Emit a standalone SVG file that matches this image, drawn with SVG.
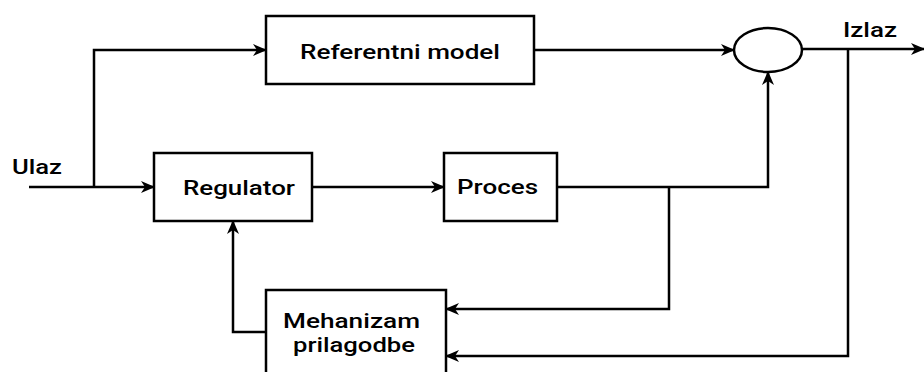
<svg xmlns="http://www.w3.org/2000/svg" width="924" height="372" viewBox="0 0 924 372">
<style>
.box{fill:#fff;stroke:#000;stroke-width:2.5}
.ln{fill:none;stroke:#000;stroke-width:2.5;marker-end:url(#arr)}
text{font-family:Roboto,"Liberation Sans",sans-serif;font-weight:500;font-size:20px;fill:#000}
</style>
<defs>
<marker id="arr" viewBox="0 0 14 12" refX="13" refY="6" markerWidth="14" markerHeight="12" markerUnits="userSpaceOnUse" orient="auto">
<path d="M0,0 L14,6 L0,12 L4,6 Z" fill="#000"/>
</marker>
</defs>
<rect width="924" height="372" fill="#fff"/>
<g id="connectors">
<path class="ln" d="M29,187 L154,187"/>
<path class="ln" d="M94,187 L94,50 L266,50"/>
<path class="ln" d="M534,50 L734,50"/>
<path class="ln" d="M312,187 L444,187"/>
<path class="ln" d="M557,187 L768,187 L768,72"/>
<path class="ln" d="M802,49 L924,49"/>
<path class="ln" d="M669,187 L669,309 L446,309"/>
<path class="ln" d="M848,49 L848,356 L446,356"/>
<path class="ln" d="M266,332 L233,332 L233,221"/>
</g>
<g id="referentni">
<rect class="box" x="266" y="16" width="268" height="68"/>
<text x="300" y="59" textLength="200" lengthAdjust="spacingAndGlyphs">Referentni model</text>
</g>
<g id="regulator">
<rect class="box" x="154" y="153" width="158" height="68"/>
<text x="183" y="195" textLength="112" lengthAdjust="spacingAndGlyphs">Regulator</text>
</g>
<g id="proces">
<rect class="box" x="444" y="153" width="113" height="68"/>
<text x="457" y="194" textLength="81" lengthAdjust="spacingAndGlyphs">Proces</text>
</g>
<g id="sum">
<ellipse cx="768" cy="50" rx="34" ry="22" fill="#fff" stroke="#000" stroke-width="2.5"/>
</g>
<g id="mehanizam">
<rect class="box" x="266" y="290" width="180" height="90"/>
<text x="283" y="328" textLength="137" lengthAdjust="spacingAndGlyphs">Mehanizam</text>
<text x="293" y="352" textLength="122" lengthAdjust="spacingAndGlyphs">prilagodbe</text>
</g>
<g id="labels">
<text x="12" y="174" textLength="50" lengthAdjust="spacingAndGlyphs">Ulaz</text>
<text x="843" y="37" textLength="54" lengthAdjust="spacingAndGlyphs">Izlaz</text>
</g>
</svg>
